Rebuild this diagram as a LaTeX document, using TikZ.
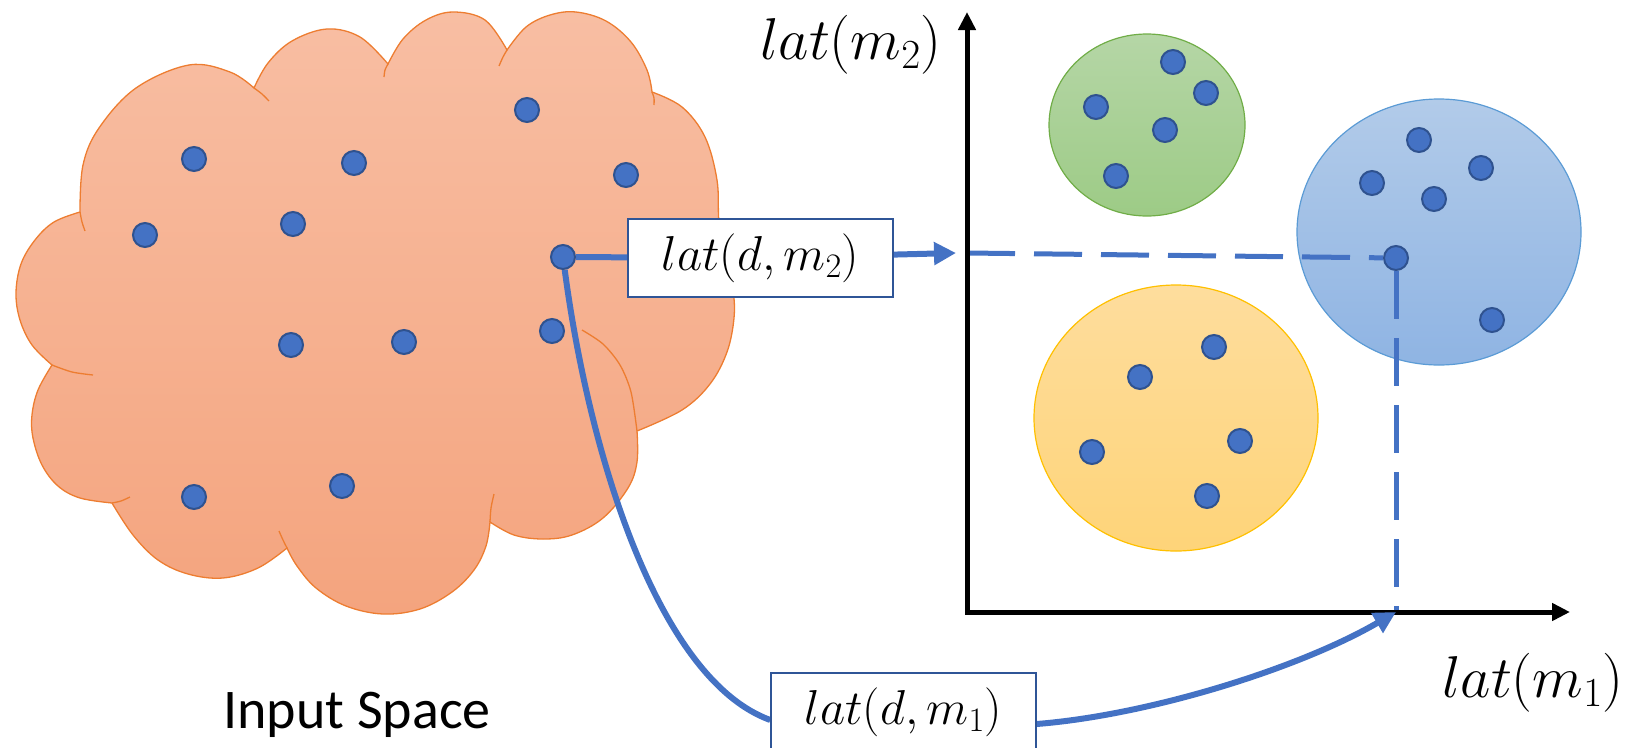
\RequirePackage{fix-cm}
\documentclass[tikz,border=0pt]{standalone}
\usepackage{fontspec}
\newfontfamily\carlito{Carlito}
\usetikzlibrary{arrows.meta,calc}
\definecolor{cloudtop}{HTML}{F8BEA3}
\definecolor{cloudbot}{HTML}{F4A47E}
\definecolor{cloudedge}{HTML}{ED7D31}
\definecolor{greentop}{HTML}{B5D6A6}
\definecolor{greenbot}{HTML}{9DCB86}
\definecolor{greenedge}{HTML}{70AD47}
\definecolor{bluetop}{HTML}{B2CBE9}
\definecolor{bluebot}{HTML}{8FB4E3}
\definecolor{blueedge}{HTML}{5B9BD5}
\definecolor{yeltop}{HTML}{FEDD9D}
\definecolor{yelbot}{HTML}{FED479}
\definecolor{yeledge}{HTML}{FFC000}
\definecolor{dotfill}{HTML}{4472C4}
\definecolor{dotedge}{HTML}{2F528F}
\definecolor{linkblue}{HTML}{4472C4}
\definecolor{boxblue}{HTML}{2F5597}
\pgfdeclarelayer{back}
\pgfdeclarelayer{mid}
\pgfsetlayers{back,mid,main}
\begin{document}
\begin{tikzpicture}[x=1pt,y=-1pt,
  dot/.style={circle,minimum size=24pt,inner sep=0pt,fill=dotfill,draw=dotedge,line width=2pt},
  cloudline/.style={draw=cloudedge,line width=1.3pt},
  link/.style={draw=linkblue,line width=6pt},
  tip/.style={-{Triangle[length=22pt,width=22pt]}},
  dashlink/.style={draw=linkblue,line width=5pt,dash pattern=on 48pt off 19pt},
  axisline/.style={draw=black,line width=5pt,{Triangle[length=18pt,width=17pt]}-{Triangle[length=18pt,width=17pt]}},
  labelbox/.style={draw=boxblue,line width=1.5pt,fill=white,minimum width=265pt,minimum height=78pt,inner sep=0pt,font=\fontsize{49}{52}\selectfont},
  axlabel/.style={font=\fontsize{59}{62}\selectfont,inner sep=0pt}
]
\useasboundingbox (0,0) rectangle (1632,747);

% ---------- background shapes ----------
\begin{pgfonlayer}{back}
\path[cloudline,top color=cloudtop,bottom color=cloudbot] (80,212)
 -- plot[smooth,tension=0.6] coordinates {(80,212) (83,165) (99,128) (136,88) (189,65) (230,72) (254,88)}
 -- plot[smooth,tension=0.6] coordinates {(254,88) (268,63) (292,41) (327,29) (360,37) (388,64)}
 -- plot[smooth,tension=0.6] coordinates {(388,64) (403,39) (426,20) (453,12) (485,20) (507,50)}
 -- plot[smooth,tension=0.6] coordinates {(507,50) (526,27) (550,15) (576,12) (606,21) (631,42) (647,70) (652,92)}
 -- plot[smooth,tension=0.6] coordinates {(652,92) (682,107) (705,137) (717,180) (719,222) (726,258) (733,290) (734,318) (727,352) (710,384) (682,410) (637,431)}
 -- plot[smooth,tension=0.6] coordinates {(637,431) (637,462) (628,488) (603,518) (572,535) (543,539) (514,535) (490,522)}
 -- plot[smooth,tension=0.6] coordinates {(490,522) (486,546) (474,570) (452,592) (420,609) (383,614) (346,606) (316,588) (297,566) (287,548)}
 -- plot[smooth,tension=0.6] coordinates {(287,548) (258,568) (223,578) (188,574) (158,560) (133,535) (112,503)}
 -- plot[smooth,tension=0.6] coordinates {(112,503) (80,498) (58,486) (42,465) (33,438) (32,415) (38,390) (52,365)}
 -- plot[smooth,tension=0.6] coordinates {(52,365) (32,345) (20,320) (16,293) (21,264) (35,240) (54,222) (80,212)}
 -- cycle;
% inner hooks of the cloud
\draw[cloudline] plot[smooth] coordinates {(80,212) (82,222) (85,231)};
\draw[cloudline] plot[smooth] coordinates {(254,88) (262,94) (269,101)};
\draw[cloudline] plot[smooth] coordinates {(388,64) (385,70) (384,77)};
\draw[cloudline] plot[smooth] coordinates {(507,50) (503,57) (499,66)};
\draw[cloudline] plot[smooth] coordinates {(652,92) (654,98) (654,105)};
\draw[cloudline] plot[smooth] coordinates {(582,330) (603,344) (620,365) (631,392) (637,431)};
\draw[cloudline] plot[smooth] coordinates {(490,522) (491,508) (494,494)};
\draw[cloudline] plot[smooth] coordinates {(287,548) (283,540) (279,531)};
\draw[cloudline] plot[smooth] coordinates {(112,503) (121,501) (130,497)};
\draw[cloudline] plot[smooth] coordinates {(52,365) (72,372) (93,375)};
% clusters
\draw[draw=greenedge,line width=1.2pt,top color=greentop,bottom color=greenbot] (1147,125) ellipse [x radius=98pt,y radius=91pt];
\draw[draw=blueedge,line width=1.2pt,top color=bluetop,bottom color=bluebot] (1439,232) ellipse [x radius=142pt,y radius=133pt];
\draw[draw=yeledge,line width=1.2pt,top color=yeltop,bottom color=yelbot] (1176,418) ellipse [x radius=142pt,y radius=133pt];
\end{pgfonlayer}

% ---------- points ----------
\node[dot] (c1) at (194,159) {};
\node[dot] (c2) at (354,163) {};
\node[dot] (c3) at (527,110) {};
\node[dot] (c4) at (626,175) {};
\node[dot] (c5) at (145,235) {};
\node[dot] (c6) at (293,224) {};
\node[dot] (src) at (563,257) {};
\node[dot] (c8) at (291,345) {};
\node[dot] (c9) at (404,342) {};
\node[dot] (c10) at (552,331) {};
\node[dot] (c11) at (194,497) {};
\node[dot] (c12) at (342,486) {};

\node[dot] (g1) at (1173,62) {};
\node[dot] (g2) at (1206,93) {};
\node[dot] (g3) at (1096,107) {};
\node[dot] (g4) at (1165,130) {};
\node[dot] (g5) at (1116,176) {};

\node[dot] (b1p) at (1419,140) {};
\node[dot] (b2p) at (1481,168) {};
\node[dot] (b3p) at (1372,183) {};
\node[dot] (b4p) at (1434,199) {};
\node[dot] (tgt) at (1396,258) {};
\node[dot] (b6p) at (1492,320) {};

\node[dot] (y1) at (1214,347) {};
\node[dot] (y2) at (1140,377) {};
\node[dot] (y3) at (1092,452) {};
\node[dot] (y4) at (1240,441) {};
\node[dot] (y5) at (1207,496) {};

% ---------- boxes and labels ----------
\node[labelbox] (b2) at (760.5,258) {$lat(d,m_2)$};
\node[labelbox] (b1) at (903.5,712) {$lat(d,m_1)$};
\node[axlabel] (ly) at (851,45) {$lat(m_2)$};
\node[axlabel] (lx) at (1533,683) {$lat(m_1)$};
\node[font=\carlito\fontsize{56}{60}\selectfont,anchor=base,inner sep=0pt] (inp) at (357,728) {Input Space};

% ---------- axes and connectors ----------
\coordinate (ytop) at (967,12);
\coordinate (O) at (967,612);
\coordinate (xend) at (1570,612);
\coordinate (ytip) at (956,253);
\coordinate (yhit) at (967,253);
\coordinate (foot) at (1396,612);

\begin{pgfonlayer}{mid}
\draw[dashlink] (yhit) -- (tgt);
\draw[dashlink] (tgt) -- (foot);
\draw[axisline] (ytop) -- (O) -- (xend);
\draw[link] (src) -- (b2);
\draw[link,tip] (b2) -- (ytip);
\draw[link] (src) .. controls (590,460) and (660,680) .. ($(b1.west)+(0,8)$);
\draw[link,tip] ($(b1.east)+(0,12)$) .. controls (1150,715) and (1300,668) .. (foot);
\end{pgfonlayer}
\end{tikzpicture}
\end{document}
